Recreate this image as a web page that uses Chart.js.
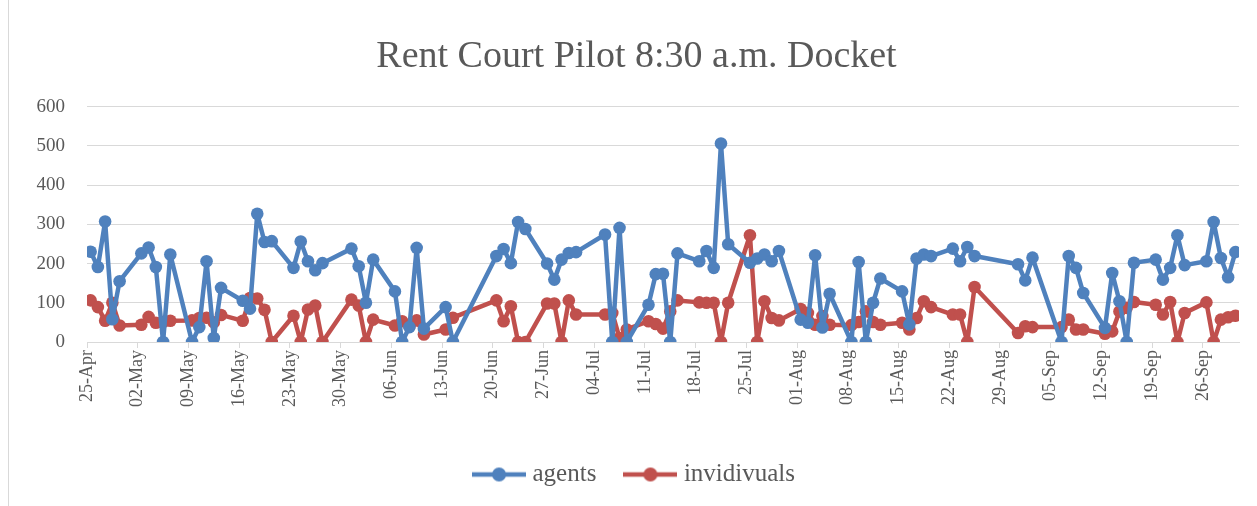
<!DOCTYPE html>
<html><head><meta charset="utf-8">
<script src="https://cdn.jsdelivr.net/npm/chart.js@4"></script>
<style>
html,body{margin:0;padding:0;background:#fff;}
#wrap{position:relative;width:1257px;height:506px;}
#wrap::before{content:'';position:absolute;left:8px;top:0;bottom:0;border-left:1px solid #d9d9d9;}
canvas{display:block;}
</style></head><body>
<div id="wrap"><canvas id="c" width="1257" height="506"></canvas></div>
<script>
const dates = [
 '2016-04-25','2016-04-26','2016-04-27','2016-04-28','2016-04-29',
 '2016-05-02','2016-05-03','2016-05-04','2016-05-05','2016-05-06',
 '2016-05-09','2016-05-10','2016-05-11','2016-05-12','2016-05-13',
 '2016-05-16','2016-05-17','2016-05-18','2016-05-19','2016-05-20',
 '2016-05-23','2016-05-24','2016-05-25','2016-05-26','2016-05-27',
 '2016-05-31','2016-06-01','2016-06-02','2016-06-03',
 '2016-06-06','2016-06-07','2016-06-08','2016-06-09','2016-06-10',
 '2016-06-13','2016-06-14',
 '2016-06-20','2016-06-21','2016-06-22','2016-06-23','2016-06-24',
 '2016-06-27','2016-06-28','2016-06-29','2016-06-30','2016-07-01',
 '2016-07-05','2016-07-06','2016-07-07','2016-07-08',
 '2016-07-11','2016-07-12','2016-07-13','2016-07-14','2016-07-15',
 '2016-07-18','2016-07-19','2016-07-20','2016-07-21','2016-07-22',
 '2016-07-25','2016-07-26','2016-07-27','2016-07-28','2016-07-29',
 '2016-08-01','2016-08-02','2016-08-03','2016-08-04','2016-08-05',
 '2016-08-08','2016-08-09','2016-08-10','2016-08-11','2016-08-12',
 '2016-08-15','2016-08-16','2016-08-17','2016-08-18','2016-08-19',
 '2016-08-22','2016-08-23','2016-08-24','2016-08-25',
 '2016-08-31','2016-09-01','2016-09-02',
 '2016-09-06','2016-09-07','2016-09-08','2016-09-09',
 '2016-09-12','2016-09-13','2016-09-14','2016-09-15','2016-09-16',
 '2016-09-19','2016-09-20','2016-09-21','2016-09-22','2016-09-23',
 '2016-09-26','2016-09-27','2016-09-28','2016-09-29','2016-09-30'
];
const agents = [
 230,191,307,58,155,
 226,241,191,0,223,
 0,38,206,10,138,
 105,85,327,255,257,
 189,256,206,183,201,
 238,193,100,210,
 129,0,38,240,34,
 89,0,
 219,237,201,306,288,
 200,159,210,227,229,
 274,0,291,0,
 95,173,174,0,226,
 206,232,189,506,249,
 202,213,223,206,232,
 57,49,221,37,123,
 0,204,0,100,162,
 129,45,213,223,219,
 238,206,242,219,
 198,157,215,
 0,219,189,125,
 36,176,104,0,202,
 210,159,189,272,196,
 206,306,214,165,229
];
const individuals = [
 106,89,54,100,42,
 44,64,49,51,54,
 55,61,62,50,69,
 54,112,111,82,0,
 67,0,83,93,0,
 108,93,0,57,
 42,53,40,55,19,
 32,62,
 106,53,91,0,0,
 98,98,0,106,70,
 70,74,10,32,
 53,46,34,78,106,
 101,100,100,0,100,
 272,0,104,61,55,
 84,74,44,66,44,
 43,51,78,51,44,
 49,32,61,104,89,
 70,70,0,140,
 23,40,38,
 38,57,32,32,
 21,27,78,87,102,
 95,70,102,0,74,
 101,0,57,63,67
];
const seriesNames = ['agents','invidivuals'];
const seriesColors = ['#4f81bd','#c0504d'];
const titleText = 'Rent Court Pilot 8:30 a.m. Docket';
const yMin = 0, yMax = 600, yStep = 100;
const axisStart = '2016-04-25', axisEnd = '2016-09-30', tickEveryDays = 7;
const MONTHS = ['Jan','Feb','Mar','Apr','May','Jun','Jul','Aug','Sep','Oct','Nov','Dec'];

const DAY = 86400000;
const BASE = Date.parse(axisStart + 'T00:00:00Z');
const dayIndex = s => Math.round((Date.parse(s + 'T00:00:00Z') - BASE) / DAY);
const lastDay = dayIndex(axisEnd);
function fmtDay(n){
  const d = new Date(BASE + n * DAY);
  return String(d.getUTCDate()).padStart(2,'0') + '-' + MONTHS[d.getUTCMonth()];
}
function series(vals){ return dates.map((s,i)=>({x: dayIndex(s), y: vals[i]})); }

function legendMarker(color){
  const c = document.createElement('canvas');
  c.width = 54; c.height = 16;
  const g = c.getContext('2d');
  g.strokeStyle = color; g.lineWidth = 4.5;
  g.beginPath(); g.moveTo(0,8); g.lineTo(54,8); g.stroke();
  g.fillStyle = color; g.beginPath(); g.arc(27,8,7,0,Math.PI*2); g.fill();
  return c;
}
const markers = seriesColors.map(legendMarker);

const FONT = "'Liberation Serif', 'DejaVu Serif', serif";
const TXT = '#595959';
const GRID = '#d9d9d9';

new Chart(document.getElementById('c'), {
  type: 'line',
  data: {
    datasets: [agents, individuals].map((vals,i)=>({
      label: seriesNames[i],
      data: series(vals),
      borderColor: seriesColors[i],
      backgroundColor: seriesColors[i],
      borderWidth: 4.5,
      borderJoinStyle: 'round',
      borderCapStyle: 'round',
      pointRadius: 6.3,
      pointHoverRadius: 6.3,
      pointBorderWidth: 0,
      pointStyle: 'circle',
      tension: 0,
      fill: false
    }))
  },
  options: {
    responsive: false,
    animation: false,
    devicePixelRatio: 1,
    layout: { padding: { left: 34, right: 18, top: 0, bottom: 9 } },
    plugins: {
      title: {
        display: true, text: titleText, color: TXT,
        font: { family: FONT, size: 38, weight: 'normal' },
        padding: { top: 34, bottom: 27 }
      },
      legend: {
        display: true, position: 'bottom',
        labels: {
          color: TXT,
          font: { family: FONT, size: 25 },
          usePointStyle: true,
          pointStyleWidth: 42,
          padding: 33,
          generateLabels(chart){
            const items = Chart.defaults.plugins.legend.labels.generateLabels(chart);
            items.forEach((it,i)=>{ it.pointStyle = markers[i]; });
            return items;
          }
        }
      },
      tooltip: { enabled: false }
    },
    scales: {
      x: {
        type: 'linear',
        min: -0.5, max: lastDay + 0.5,
        afterBuildTicks(scale){
          const t = [];
          for (let d = 0; d <= lastDay; d += tickEveryDays) t.push({ value: d - 0.5 });
          scale.ticks = t;
        },
        afterFit(scale){ scale.height = 87; },
        ticks: {
          autoSkip: false, minRotation: 90, maxRotation: 90,
          color: TXT, font: { family: FONT, size: 18 }, padding: 2,
          callback: v => fmtDay(Math.round(v + 0.5))
        },
        grid: { drawOnChartArea: false, drawTicks: true, tickLength: 6, color: GRID, lineWidth: 1 },
        border: { display: true, color: GRID, width: 1 }
      },
      y: {
        min: yMin, max: yMax,
        afterFit(scale){ scale.width = 53; },
        ticks: { stepSize: yStep, color: TXT, font: { family: FONT, size: 19 }, padding: 22 },
        grid: { color: GRID, lineWidth: 1, drawTicks: false },
        border: { display: false }
      }
    }
  }
});
</script>
</body></html>
